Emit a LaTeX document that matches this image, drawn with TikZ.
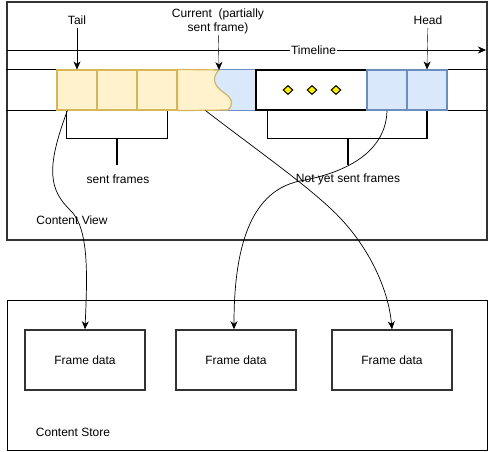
\documentclass[tikz,border=0pt]{standalone}
\usepackage{fontspec}
\setmainfont{Liberation Sans}
\usetikzlibrary{arrows.meta,shapes.geometric}
\definecolor{sentfill}{HTML}{FFF2CC}
\definecolor{sentline}{HTML}{D6B656}
\definecolor{waitfill}{HTML}{DAE8FC}
\definecolor{waitline}{HTML}{6C8EBF}
\definecolor{boxline}{HTML}{333333}

\begin{document}
\begin{tikzpicture}[x=1pt, y=-1pt, font=\fontsize{12}{14}\selectfont,
    >={Stealth[length=8pt,width=7pt,inset=2.5pt]},
    sentcell/.style={draw=sentline, fill=sentfill, line width=1.2pt,
                     minimum width=40pt, minimum height=40pt, inner sep=0pt},
    waitcell/.style={draw=waitline, fill=waitfill, line width=1.2pt,
                     minimum width=40pt, minimum height=40pt, inner sep=0pt},
    dot/.style={diamond, draw, fill=yellow, line width=1pt, aspect=1.2,
                minimum width=10pt, minimum height=9pt, inner sep=0pt},
    framebox/.style={draw=boxline, line width=1.5pt, minimum width=120pt,
                     minimum height=60pt},
    bracket/.style={line width=1.2pt},
    link/.style={->, line width=0.7pt}]
    \useasboundingbox (0,0) rectangle (496,451);

    % content view
    \node[draw=boxline, line width=2pt, minimum width=480pt, minimum height=238pt] (view) at (247,121) {};
    \node (viewlbl) at (72,220) {Content View};

    % timeline
    \coordinate (tl0) at (7,50);
    \coordinate (tl1) at (486,50);
    \draw[->] (tl0) -- node[pos=0.64, fill=white, inner sep=1pt] (tline) {Timeline} (tl1);

    % frames on the timeline
    \foreach \i/\x in {1/77,2/117,3/157}
        \node[sentcell] (s\i) at (\x,90) {};
    \node[fill=waitfill, minimum width=42pt, minimum height=40pt, inner sep=0pt] (p2) at (235,90) {};
    \draw[waitline, line width=1.2pt] (p2.north west) -| (p2.south east) -- (p2.south west);
    \coordinate (cur) at (219,70);
    \draw[sentline, fill=sentfill, line width=1.2pt] (s3.north east) -- (cur)
        .. controls (212,77) and (213,85) .. (223,92)
        .. controls (234,99) and (233,106) .. (228,110) -- (s3.south east) -- cycle;
    \node[draw, line width=1.2pt, minimum width=111pt, minimum height=40pt, inner sep=0pt] (dots) at (311.5,90) {};
    \foreach \i/\x in {1/288,2/312,3/336}
        \node[dot] (d\i) at (\x,90) {};
    \foreach \i/\x in {1/387,2/427}
        \node[waitcell] (b\i) at (\x,90) {};

    % lane lines
    \draw (view.west |- s1.north) -- (s1.north west);
    \draw (view.west |- s1.south) -- (s1.south west);
    \draw (b2.north east) -- (view.east |- b2.north);
    \draw (b2.south east) -- (view.east |- b2.south);

    % pointers
    \node (tail) at (77,20) {Tail};
    \node[align=center, inner sep=1pt] (current) at (218,21) {Current\ \ (partially\\sent frame)};
    \node (head) at (428,20) {Head};
    \draw[->] (tail) -- (s1.north);
    \draw[->] (current) -- (cur);
    \draw[->] (head) -- (b2.north);

    % brackets
    \draw[bracket] ([xshift=10pt]s1.south west) -- ++(0,28) -| ([xshift=-10pt]s3.south east);
    \draw[bracket] (117,138) -- (117,165);
    \node (sentlbl) at (118,179) {sent frames};
    \draw[bracket] ([xshift=12pt]dots.south west) -- ++(0,28) -| (b2.south);
    \draw[bracket] (348,138) -- (348,165);
    \node (waitlbl) at (348,179) {Not yet sent frames};

    % content store
    \node[draw, minimum width=480pt, minimum height=150pt] (store) at (247,375) {};
    \node (storelbl) at (73,432) {Content Store};
    \foreach \i/\x in {1/85,2/236,3/392}
        \node[framebox] (f\i) at (\x,360) {Frame data};

    % links to frame data
    \draw[link] ([xshift=11pt]s1.south west) .. controls (45,170) and (50,190) .. (70,210)
        .. controls (90,228) and (87,280) .. (f1.north);
    \draw[link] ([xshift=28pt]s3.south east) .. controls (250,145) and (300,180) .. (330,208)
        .. controls (365,240) and (388,285) .. (f3.north);
    \draw[link] (b1.south) .. controls (386,150) and (350,172) .. (300,181)
        .. controls (245,192) and (234,260) .. ([xshift=-2pt]f2.north);
\end{tikzpicture}
\end{document}
